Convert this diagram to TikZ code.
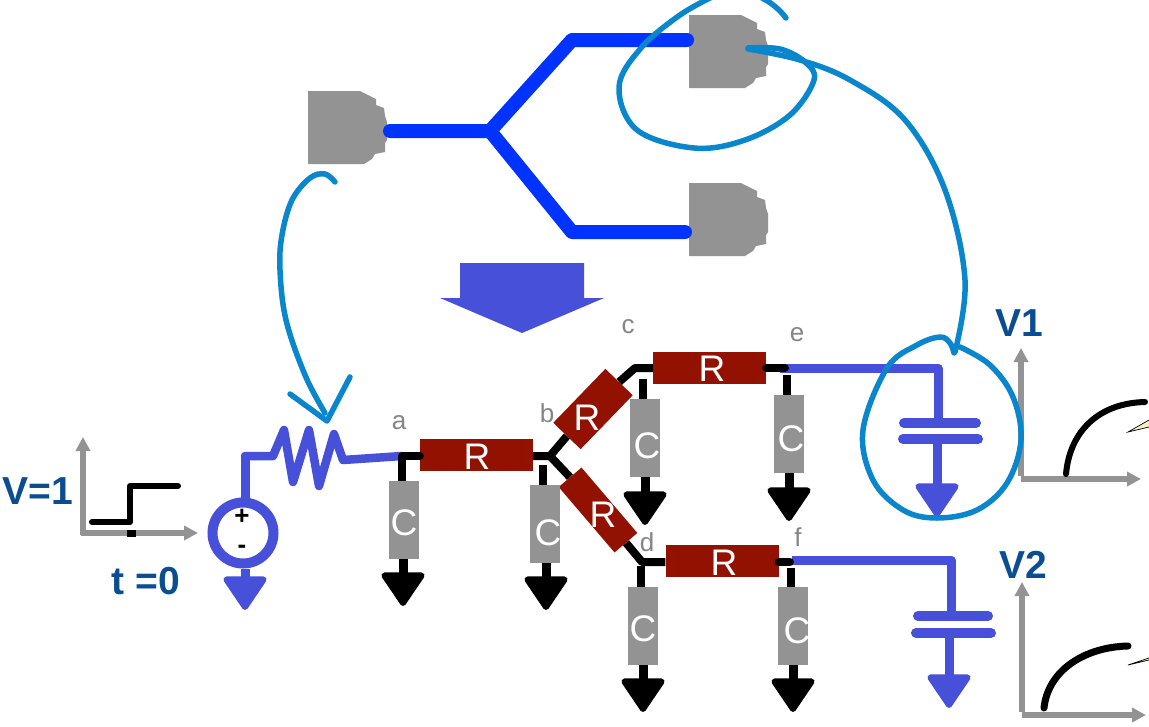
\documentclass[tikz,border=0pt]{standalone}
\usepackage{fontspec}
\setmainfont{Liberation Sans}
\usetikzlibrary{arrows.meta}
\definecolor{gatecol}{HTML}{939393}
\definecolor{rescol}{HTML}{931100}
\definecolor{netcol}{HTML}{0033FF}
\definecolor{ckcol}{HTML}{4650D8}
\definecolor{inkcol}{HTML}{0A86CC}
\definecolor{headcol}{HTML}{0B4D91}
\definecolor{tagcol}{HTML}{858585}
\definecolor{flagcol}{HTML}{F5F0C0}
\tikzset{
  gatepic/.pic={\fill[gatecol] (0,0) -- (52,0) -- (68,8) -- (68,14) -- (76,17) -- (77,25) -- (79,31) -- (79,49) -- (77,52) -- (77,61) -- (67,63) -- (64,68) -- (56,73) -- (0,73) -- cycle;},
  netline/.style={draw=netcol,line width=14pt,line cap=round,line join=round},
  wire/.style={draw=black,line width=8pt,line cap=butt,line join=round},
  ckwire/.style={draw=ckcol,line width=9pt,line cap=butt,line join=round},
  plate/.style={draw=ckcol,line width=10pt,line cap=round},
  gndblack/.style={draw=black,line width=9pt,-{Triangle[width=47pt,length=36pt,round,line width=6pt]}},
  gndblue/.style={draw=ckcol,line width=9pt,-{Triangle[width=47pt,length=36pt,round,line width=6pt]}},
  axisline/.style={draw=gatecol,line width=6pt,-{Triangle[width=14pt,length=14pt]}},
  sigline/.style={draw=black,line width=6pt,line cap=round,line join=round},
  inkline/.style={draw=inkcol,line width=5.5pt,line cap=round,line join=round},
  rbox/.style={fill=rescol,inner sep=0pt,minimum width=113pt,minimum height=32pt},
  cbox/.style={fill=gatecol,inner sep=0pt,minimum width=30pt,minimum height=78pt},
  boxtext/.style={text=white,inner sep=0pt,font=\fontsize{37}{37}\selectfont},
  tag/.style={text=tagcol,inner sep=0pt,font=\fontsize{26}{26}\selectfont},
  headtext/.style={text=headcol,inner sep=0pt,font=\bfseries\fontsize{39}{39}\selectfont},
  signtext/.style={text=black,inner sep=0pt,font=\bfseries\fontsize{26}{26}\selectfont}
}
\begin{document}
\begin{tikzpicture}[x=1pt,y=-1pt]
\useasboundingbox (0,0) rectangle (1149,726);
% gates and the net
\pic at (308,91) {gatepic};
\pic at (689,15) {gatepic};
\pic at (689,183) {gatepic};
\coordinate (n0) at (390,131);
\coordinate (n1) at (490,131);
\coordinate (n2) at (572,40);
\coordinate (n3) at (687,40);
\coordinate (n4) at (572,232);
\coordinate (n5) at (685,232);
\draw[netline] (n0) -- (n1) -- (n2) -- (n3);
\draw[netline] (n1) -- (n4) -- (n5);
\fill[ckcol] (460,263) -- (584,263) -- (584,298) -- (604,298) -- (522,333) -- (440,298) -- (460,298) -- cycle;
% junctions
\coordinate (ja) at (402,456);
\coordinate (jb) at (550,456);
\coordinate (jc) at (635,368);
\coordinate (jd) at (642,562);
\coordinate (je) at (785,368);
\coordinate (jf) at (790,562);
% source side
\node[circle,draw=ckcol,line width=10pt,minimum size=61pt,inner sep=0pt] (src) at (243,533) {};
\node[signtext] (plus) at (242,517) {+};
\node[signtext] (minus) at (242,549) {-};
\coordinate (w0) at (245,456);
\coordinate (w1) at (273,456);
\draw[ckwire] (src.north -| w0) -- (w0);
\draw[draw=ckcol,line width=8.5pt,line cap=round,line join=round] (w0) -- (w1) -- (284,430) -- (293,482) -- (309,430) -- (319,486) -- (334,434) -- (343,460) -- (ja);
\coordinate (gs) at (245,610);
\draw[gndblue] (src.south -| gs) -- (gs);
% loads
\coordinate (l0) at (780,368);
\coordinate (l1) at (938,368);
\coordinate (l2) at (951,560);
\coordinate (l3) at (792,560);
\coordinate (p1) at (938,423);
\coordinate (p2) at (937,439);
\coordinate (p3) at (951,616);
\coordinate (p4) at (949,633);
\coordinate (g1) at (937,517);
\coordinate (g2) at (949,708);
\draw[ckwire] (l0) -- (l1) -- (p1);
\draw[ckwire] (l3) -- (l2) -- (p3);
\draw[plate] (904,423) -- (976,423);
\draw[plate] (903,439) -- (978,439);
\draw[plate] (918,616) -- (988,616);
\draw[plate] (916,633) -- (991,633);
\draw[gndblue] (p2) -- (g1);
\draw[gndblue] (p4) -- (g2);
% resistors
\node[rbox] (r1) at (476.5,455) {};
\node[rbox] (r3) at (709.5,367.5) {};
\node[rbox] (r4) at (722,561) {};
\node[rbox,minimum width=75pt,minimum height=38pt,rotate=46] (r2) at (593,409) {};
\node[rbox,minimum width=86pt,minimum height=30pt,rotate=-49.5] (r5) at (598,510) {};
\draw[wire,line cap=round] (ja) -- (ja -| r1.west);
\draw[wire] (jb -| r1.east) -- (jb) -- (r2.west);
\draw[wire] (jb) -- (r5.west);
\draw[wire] (r2.east) -- (jc) -- (jc -| r3.west);
\draw[wire] (r5.east) -- (jd) -- (jd -| r4.west);
\draw[wire,line cap=round] (je -| r3.east) -- (je);
\draw[wire,line cap=round] (jf -| r4.east) -- (jf);
% capacitors to ground
\node[cbox] (ca) at (403.5,520) {};
\node[cbox] (cb) at (545,524) {};
\node[cbox] (cc) at (645,438) {};
\node[cbox] (ce) at (789,434) {};
\node[cbox] (cd) at (643,626) {};
\node[cbox] (cf) at (793,626) {};
\coordinate (sb) at (543,465);
\coordinate (sc) at (643,379);
\coordinate (se) at (787,375);
\coordinate (sd) at (641,566);
\coordinate (sf) at (791,568);
\draw[wire] (ja) -- (ca.north -| ja);
\draw[wire] (sb) -- (cb.north -| sb);
\draw[wire] (sc) -- (cc.north -| sc);
\draw[wire] (se) -- (ce.north -| se);
\draw[wire] (sd) -- (cd.north -| sd);
\draw[wire] (sf) -- (cf.north -| sf);
\coordinate (ga) at (403,606);
\coordinate (gb) at (546,610);
\coordinate (gc) at (645,525);
\coordinate (ge) at (789,521);
\coordinate (gd) at (643,712);
\coordinate (gf) at (793,712);
\draw[gndblack] (ca.south -| ga) -- (ga);
\draw[gndblack] (cb.south -| gb) -- (gb);
\draw[gndblack] (cc.south) -- (gc);
\draw[gndblack] (ce.south) -- (ge);
\draw[gndblack] (cd.south) -- (gd);
\draw[gndblack] (cf.south) -- (gf);
% plots
\draw[axisline] (83,535) -- (83,437);
\draw[axisline] (81,533) -- (198,533);
\fill[black] (127,530) rectangle (136,537);
\draw[sigline] (92,522) -- (130,522) -- (130,486) -- (178,486);
\draw[axisline] (1021,476) -- (1021,348);
\draw[axisline] (1021,479) -- (1141,479);
\draw[sigline] (1066,474) .. controls (1070,430) and (1100,403) .. (1145,402);
\draw[axisline] (1022,712) -- (1022,582);
\draw[axisline] (1022,715) -- (1146,715);
\draw[sigline,line width=7pt] (1044,708) .. controls (1048,670) and (1085,647) .. (1128,646);
\fill[flagcol,draw=black,line width=0.7pt] (1149,420) -- (1128,432) -- (1149,427);
\fill[flagcol,draw=black,line width=0.7pt] (1149,658) -- (1128,665) -- (1149,660);
% texts
\node[boxtext] (r1t) at (477,457) {R};
\node[boxtext] (r3t) at (712,369) {R};
\node[boxtext] (r4t) at (724,563) {R};
\node[boxtext] (r2t) at (587,418) {R};
\node[boxtext] (r5t) at (603,515) {R};
\node[boxtext] (cat) at (404,523) {C};
\node[boxtext] (cbt) at (548,533) {C};
\node[boxtext] (cct) at (647,446) {C};
\node[boxtext] (cet) at (791,439) {C};
\node[boxtext] (cdt) at (643,629) {C};
\node[boxtext] (cft) at (797,631) {C};
\node[headtext] (v0) at (38,491) {V=1};
\node[headtext] (t0) at (146,581) {t =0};
\node[headtext] (v1) at (1019,323) {V1};
\node[headtext] (v2) at (1023,565) {V2};
\node[tag] (ta) at (399,423) {a};
\node[tag] (tb) at (547,413) {b};
\node[tag] (tc) at (628,327) {c};
\node[tag] (td) at (647,542) {d};
\node[tag] (te) at (797,335) {e};
\node[tag] (tf) at (798,537) {f};
% pen marks
\draw[inkline] plot[smooth,tension=0.6] coordinates {(335,182) (325,174) (310,178) (292,200) (282,235) (280,270) (286,320) (305,375) (325,413)};
\draw[inkline] (290,394) -- (327,421) -- (350,377);
\draw[inkline] plot[smooth,tension=0.6] coordinates {(716,-5) (680,15) (641,48) (619,87) (637,130) (694,148) (745,140) (790,115) (814,80) (805,62) (780,49) (748,48)};
\draw[inkline] (762,-2) .. controls (772,3) and (780,10) .. (786,18);
\draw[inkline] plot[smooth,tension=0.6] coordinates {(748,49) (800,60) (850,80) (905,120) (945,190) (965,280) (955,352)};
\draw[inkline] plot[smooth,tension=0.6] coordinates {(954,353) (950,343) (940,337) (917,345) (887,368) (863,430) (873,480) (903,510) (937,518) (977,510) (1007,483) (1021,440) (1013,397) (990,365) (960,347)};
\end{tikzpicture}
\end{document}
